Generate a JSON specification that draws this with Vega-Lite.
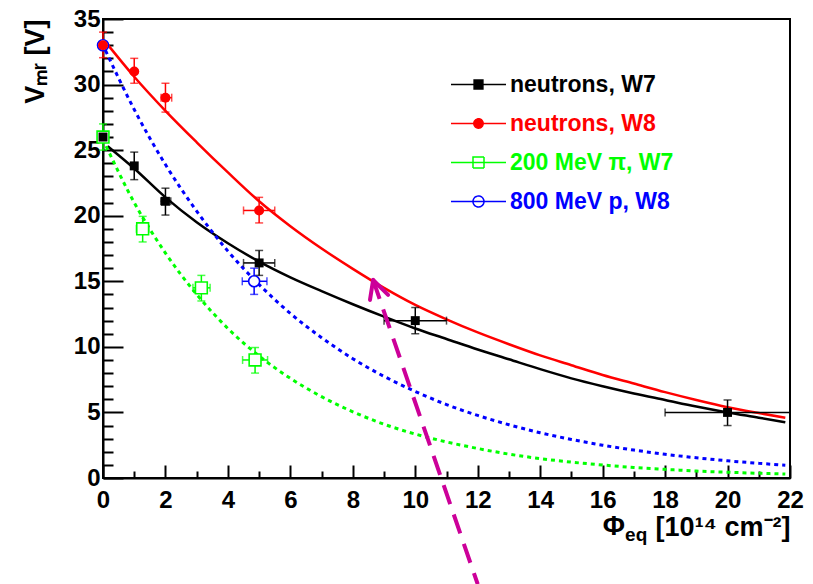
{
  "$schema": "https://vega.github.io/schema/vega-lite/v6.json",
  "width": 687,
  "height": 459,
  "autosize": {"type": "none"},
  "padding": {"left": 103, "top": 19, "right": 23, "bottom": 106},
  "background": "white",
  "config": {"view": {"stroke": "black", "strokeWidth": 2}, "font": "Liberation Sans"},
  "datasets": {
    "curves": [
      {"series": "neutrons, W7", "x": 0.15, "y": 25.3},
      {"series": "neutrons, W7", "x": 1, "y": 23.6},
      {"series": "neutrons, W7", "x": 2, "y": 21.4},
      {"series": "neutrons, W7", "x": 3, "y": 19.5},
      {"series": "neutrons, W7", "x": 4, "y": 17.9},
      {"series": "neutrons, W7", "x": 5, "y": 16.5},
      {"series": "neutrons, W7", "x": 6, "y": 15.3},
      {"series": "neutrons, W7", "x": 7, "y": 14.25},
      {"series": "neutrons, W7", "x": 8, "y": 13.25},
      {"series": "neutrons, W7", "x": 9, "y": 12.3},
      {"series": "neutrons, W7", "x": 10, "y": 11.4},
      {"series": "neutrons, W7", "x": 11, "y": 10.6},
      {"series": "neutrons, W7", "x": 12, "y": 9.8},
      {"series": "neutrons, W7", "x": 13, "y": 9.05},
      {"series": "neutrons, W7", "x": 14, "y": 8.3},
      {"series": "neutrons, W7", "x": 15, "y": 7.6},
      {"series": "neutrons, W7", "x": 16, "y": 7.0},
      {"series": "neutrons, W7", "x": 17, "y": 6.45},
      {"series": "neutrons, W7", "x": 18, "y": 5.95},
      {"series": "neutrons, W7", "x": 19, "y": 5.45},
      {"series": "neutrons, W7", "x": 20, "y": 5.0},
      {"series": "neutrons, W7", "x": 21, "y": 4.6},
      {"series": "neutrons, W7", "x": 21.85, "y": 4.25},
      {"series": "neutrons, W8", "x": 0.1, "y": 33.2},
      {"series": "neutrons, W8", "x": 1, "y": 30.6},
      {"series": "neutrons, W8", "x": 2, "y": 28.0},
      {"series": "neutrons, W8", "x": 3, "y": 25.6},
      {"series": "neutrons, W8", "x": 4, "y": 23.3},
      {"series": "neutrons, W8", "x": 5, "y": 21.1},
      {"series": "neutrons, W8", "x": 6, "y": 19.2},
      {"series": "neutrons, W8", "x": 7, "y": 17.5},
      {"series": "neutrons, W8", "x": 8, "y": 15.95},
      {"series": "neutrons, W8", "x": 9, "y": 14.5},
      {"series": "neutrons, W8", "x": 10, "y": 13.2},
      {"series": "neutrons, W8", "x": 11, "y": 12.1},
      {"series": "neutrons, W8", "x": 12, "y": 11.1},
      {"series": "neutrons, W8", "x": 13, "y": 10.2},
      {"series": "neutrons, W8", "x": 14, "y": 9.35},
      {"series": "neutrons, W8", "x": 15, "y": 8.6},
      {"series": "neutrons, W8", "x": 16, "y": 7.85},
      {"series": "neutrons, W8", "x": 17, "y": 7.2},
      {"series": "neutrons, W8", "x": 18, "y": 6.55},
      {"series": "neutrons, W8", "x": 19, "y": 5.95},
      {"series": "neutrons, W8", "x": 20, "y": 5.4},
      {"series": "neutrons, W8", "x": 21, "y": 4.95},
      {"series": "neutrons, W8", "x": 21.85, "y": 4.6},
      {"series": "200 MeV π, W7", "x": 0.1, "y": 25.3},
      {"series": "200 MeV π, W7", "x": 1, "y": 21.0},
      {"series": "200 MeV π, W7", "x": 2, "y": 17.15},
      {"series": "200 MeV π, W7", "x": 3, "y": 14.0},
      {"series": "200 MeV π, W7", "x": 4, "y": 11.4},
      {"series": "200 MeV π, W7", "x": 5, "y": 9.3},
      {"series": "200 MeV π, W7", "x": 6, "y": 7.6},
      {"series": "200 MeV π, W7", "x": 7, "y": 6.2},
      {"series": "200 MeV π, W7", "x": 8, "y": 5.05},
      {"series": "200 MeV π, W7", "x": 9, "y": 4.1},
      {"series": "200 MeV π, W7", "x": 10, "y": 3.35},
      {"series": "200 MeV π, W7", "x": 11, "y": 2.75},
      {"series": "200 MeV π, W7", "x": 12, "y": 2.25},
      {"series": "200 MeV π, W7", "x": 13, "y": 1.82},
      {"series": "200 MeV π, W7", "x": 14, "y": 1.48},
      {"series": "200 MeV π, W7", "x": 15, "y": 1.21},
      {"series": "200 MeV π, W7", "x": 16, "y": 0.99},
      {"series": "200 MeV π, W7", "x": 17, "y": 0.8},
      {"series": "200 MeV π, W7", "x": 18, "y": 0.66},
      {"series": "200 MeV π, W7", "x": 19, "y": 0.53},
      {"series": "200 MeV π, W7", "x": 20, "y": 0.44},
      {"series": "200 MeV π, W7", "x": 21, "y": 0.36},
      {"series": "200 MeV π, W7", "x": 21.85, "y": 0.3},
      {"series": "800 MeV p, W8", "x": 0.08, "y": 32.6},
      {"series": "800 MeV p, W8", "x": 1, "y": 28.1},
      {"series": "800 MeV p, W8", "x": 2, "y": 23.9},
      {"series": "800 MeV p, W8", "x": 3, "y": 20.35},
      {"series": "800 MeV p, W8", "x": 4, "y": 17.3},
      {"series": "800 MeV p, W8", "x": 5, "y": 14.75},
      {"series": "800 MeV p, W8", "x": 6, "y": 12.55},
      {"series": "800 MeV p, W8", "x": 7, "y": 10.7},
      {"series": "800 MeV p, W8", "x": 8, "y": 9.1},
      {"series": "800 MeV p, W8", "x": 9, "y": 7.75},
      {"series": "800 MeV p, W8", "x": 10, "y": 6.6},
      {"series": "800 MeV p, W8", "x": 11, "y": 5.6},
      {"series": "800 MeV p, W8", "x": 12, "y": 4.77},
      {"series": "800 MeV p, W8", "x": 13, "y": 4.06},
      {"series": "800 MeV p, W8", "x": 14, "y": 3.45},
      {"series": "800 MeV p, W8", "x": 15, "y": 2.94},
      {"series": "800 MeV p, W8", "x": 16, "y": 2.5},
      {"series": "800 MeV p, W8", "x": 17, "y": 2.13},
      {"series": "800 MeV p, W8", "x": 18, "y": 1.81},
      {"series": "800 MeV p, W8", "x": 19, "y": 1.54},
      {"series": "800 MeV p, W8", "x": 20, "y": 1.31},
      {"series": "800 MeV p, W8", "x": 21, "y": 1.12},
      {"series": "800 MeV p, W8", "x": 21.85, "y": 0.98}
    ],
    "points": [
      {"series": "neutrons, W7", "x": 0, "y": 26, "ylo": 26, "yhi": 26, "xlo": 0, "xhi": 0},
      {"series": "neutrons, W7", "x": 1, "y": 23.8, "ylo": 22.75, "yhi": 24.85, "xlo": 1, "xhi": 1},
      {"series": "neutrons, W7", "x": 2, "y": 21.1, "ylo": 20.05, "yhi": 22.1, "xlo": 1.85, "xhi": 2.17},
      {"series": "neutrons, W7", "x": 5, "y": 16.4, "ylo": 15.45, "yhi": 17.35, "xlo": 4.5, "xhi": 5.5},
      {"series": "neutrons, W7", "x": 10, "y": 12.0, "ylo": 11.0, "yhi": 13.0, "xlo": 9.0, "xhi": 11.0},
      {"series": "neutrons, W7", "x": 20, "y": 5.0, "ylo": 4.0, "yhi": 5.95, "xlo": 18.0, "xhi": 22.0},
      {"series": "neutrons, W8", "x": 0, "y": 33.0, "ylo": 32.05, "yhi": 34.0, "xlo": 0, "xhi": 0},
      {"series": "neutrons, W8", "x": 1, "y": 31.0, "ylo": 30.1, "yhi": 32.0, "xlo": 1, "xhi": 1},
      {"series": "neutrons, W8", "x": 2, "y": 29.0, "ylo": 27.9, "yhi": 30.1, "xlo": 1.86, "xhi": 2.2},
      {"series": "neutrons, W8", "x": 5, "y": 20.4, "ylo": 19.45, "yhi": 21.4, "xlo": 4.5, "xhi": 5.5},
      {"series": "200 MeV π, W7", "x": 0, "y": 26, "ylo": 25.0, "yhi": 27.0, "xlo": 0, "xhi": 0},
      {"series": "200 MeV π, W7", "x": 1.27, "y": 19.0, "ylo": 18.0, "yhi": 19.95, "xlo": 1.07, "xhi": 1.47},
      {"series": "200 MeV π, W7", "x": 3.15, "y": 14.5, "ylo": 13.5, "yhi": 15.45, "xlo": 2.88, "xhi": 3.43},
      {"series": "200 MeV π, W7", "x": 4.87, "y": 9.0, "ylo": 8.0, "yhi": 9.95, "xlo": 4.47, "xhi": 5.27},
      {"series": "800 MeV p, W8", "x": 0, "y": 33.0, "ylo": 33.0, "yhi": 33.0, "xlo": 0, "xhi": 0},
      {"series": "800 MeV p, W8", "x": 4.84, "y": 15.0, "ylo": 14.0, "yhi": 16.0, "xlo": 4.46, "xhi": 5.25}
    ],
    "arrowShaft": [{"x": 8.65, "y": 15.1, "x2": 12.0, "y2": -8.1}],
    "arrowHead": [
      {"x": 8.65, "y": 15.1, "x2": 8.55, "y2": 13.58},
      {"x": 8.65, "y": 15.1, "x2": 9.13, "y2": 13.96}
    ],
    "titlePhi": [{"label": "Φ"}],
    "titleEq": [{"label": "eq"}]
  },
  "layer": [
    {
      "data": {"name": "curves"},
      "transform": [{"filter": "datum.series === 'neutrons, W7' || datum.series === 'neutrons, W8'"}],
      "mark": {"type": "line", "strokeWidth": 2.5, "interpolate": "monotone"},
      "encoding": {
        "x": {
          "field": "x", "type": "quantitative", "title": "[10¹⁴ cm⁻²]",
          "scale": {"domain": [0, 22], "nice": false, "zero": false},
          "axis": {
            "title": "[10¹⁴ cm⁻²]",
            "values": [0,0.5,1,1.5,2,2.5,3,3.5,4,4.5,5,5.5,6,6.5,7,7.5,8,8.5,9,9.5,10,10.5,11,11.5,12,12.5,13,13.5,14,14.5,15,15.5,16,16.5,17,17.5,18,18.5,19,19.5,20,20.5,21,21.5,22],
            "tickCount": 200,
            "format": "d",
            "labelExpr": "datum.value % 2 === 0 ? datum.label : ''",
            "tickSize": {"condition": {"test": "datum.value % 2 === 0", "value": -13}, "value": -7},
            "tickColor": "black", "tickWidth": 2, "domainColor": "black", "domainWidth": 2,
            "labelFont": "Liberation Sans", "labelFontWeight": "bold", "labelFontSize": 24, "labelColor": "black",
            "labelPadding": 23, "labelFlush": false, "labelOverlap": false, "labelBaseline": "top", "grid": false,
            "titleFont": "Liberation Sans", "titleFontWeight": "bold", "titleFontSize": 27, "titleColor": "black",
            "titleX": 687, "titleY": 57, "titleAlign": "right", "titleBaseline": "alphabetic"
          }
        },
        "y": {
          "field": "y", "type": "quantitative", "title": "Vₘᵣ [V]",
          "scale": {"domain": [0, 35], "nice": false, "zero": false},
          "axis": {
            "title": "Vₘᵣ [V]",
            "values": [0,1,2,3,4,5,6,7,8,9,10,11,12,13,14,15,16,17,18,19,20,21,22,23,24,25,26,27,28,29,30,31,32,33,34,35],
            "tickCount": 200,
            "format": "d",
            "labelExpr": "datum.value % 5 === 0 ? datum.label : ''",
            "tickSize": {"condition": {"test": "datum.value % 5 === 0", "value": -20}, "value": -10},
            "tickColor": "black", "tickWidth": 2, "domainColor": "black", "domainWidth": 2,
            "labelFont": "Liberation Sans", "labelFontWeight": "bold", "labelFontSize": 24, "labelColor": "black",
            "labelPadding": 23, "labelFlush": false, "labelOverlap": false, "grid": false,
            "titleFont": "Liberation Sans", "titleFontWeight": "bold", "titleFontSize": 27, "titleColor": "black",
            "titleX": -60, "titleY": 0, "titleAlign": "right", "titleAngle": 270, "titleBaseline": "alphabetic"
          }
        },
        "color": {
          "field": "series", "type": "nominal",
          "scale": {"domain": ["neutrons, W7", "neutrons, W8", "200 MeV π, W7", "800 MeV p, W8"], "range": ["#000000", "#ff0000", "#00ff00", "#0000ff"]},
          "legend": {
            "title": null, "orient": "none", "legendX": 347, "legendY": 46, "padding": 0, "offset": 0,
            "symbolSize": 3025, "clipHeight": 39, "rowPadding": 0,
            "labelOffset": 3, "labelFont": "Liberation Sans", "labelFontSize": 23, "labelFontWeight": "bold", "labelLimit": 400,
            "symbolStrokeWidth": 1.5,
            "encode": {
              "symbols": {"update": {
                "shape": {"signal": "['M-1,0H1M-0.16,-0.16H0.16V0.16H-0.16Z','M-1,0H1M-0.17,0A0.17,0.17,0,1,0,0.17,0A0.17,0.17,0,1,0,-0.17,0Z','M-1,0H1M-0.2,-0.2H0.2V0.2H-0.2Z','M-1,0H1M-0.2,0A0.2,0.2,0,1,0,0.2,0A0.2,0.2,0,1,0,-0.2,0Z'][datum.index]"},
                "fillOpacity": {"signal": "datum.index < 2 ? 1 : 0"},
                "stroke": {"scale": "color", "field": "value"},
                "strokeDash": {"value": [1, 0]},
                "strokeWidth": {"value": 1.5},
                "size": {"value": 3025},
                "opacity": {"value": 1}
              }},
              "labels": {"update": {"fill": {"scale": "color", "field": "value"}}}
            }
          }
        }
      }
    },
    {
      "data": {"name": "curves"},
      "transform": [{"filter": "datum.series === '200 MeV π, W7' || datum.series === '800 MeV p, W8'"}],
      "mark": {"type": "line", "strokeWidth": 3, "strokeDash": [4, 4], "interpolate": "monotone"},
      "encoding": {
        "x": {"field": "x", "type": "quantitative", "title": "[10¹⁴ cm⁻²]"},
        "y": {"field": "y", "type": "quantitative", "title": "Vₘᵣ [V]"},
        "color": {"field": "series", "type": "nominal", "legend": null}
      }
    },
    {
      "data": {"name": "points"},
      "transform": [{"filter": "datum.ylo < datum.yhi"}],
      "mark": {"type": "errorbar", "ticks": {"size": 8}, "thickness": 1.5},
      "encoding": {
        "x": {"field": "x", "type": "quantitative", "title": "[10¹⁴ cm⁻²]"},
        "y": {"field": "ylo", "type": "quantitative", "title": "Vₘᵣ [V]"},
        "y2": {"field": "yhi"},
        "color": {"field": "series", "type": "nominal", "legend": null}
      }
    },
    {
      "data": {"name": "points"},
      "transform": [{"filter": "datum.xlo < datum.xhi"}],
      "mark": {"type": "errorbar", "ticks": {"size": 8}, "thickness": 1.5},
      "encoding": {
        "y": {"field": "y", "type": "quantitative", "title": "Vₘᵣ [V]"},
        "x": {"field": "xlo", "type": "quantitative", "title": "[10¹⁴ cm⁻²]"},
        "x2": {"field": "xhi"},
        "color": {"field": "series", "type": "nominal", "legend": null}
      }
    },
    {
      "data": {"name": "points"},
      "transform": [{"filter": "datum.series === '200 MeV π, W7'"}],
      "mark": {"type": "point", "shape": "square", "filled": false, "fill": "white", "strokeWidth": 1.6, "size": 140, "opacity": 1},
      "encoding": {
        "x": {"field": "x", "type": "quantitative", "title": "[10¹⁴ cm⁻²]"},
        "y": {"field": "y", "type": "quantitative", "title": "Vₘᵣ [V]"},
        "color": {"field": "series", "type": "nominal", "legend": null}
      }
    },
    {
      "data": {"name": "points"},
      "transform": [{"filter": "datum.series === '800 MeV p, W8'"}],
      "mark": {"type": "point", "shape": "circle", "filled": false, "fill": "white", "strokeWidth": 1.6, "size": 120, "opacity": 1},
      "encoding": {
        "x": {"field": "x", "type": "quantitative", "title": "[10¹⁴ cm⁻²]"},
        "y": {"field": "y", "type": "quantitative", "title": "Vₘᵣ [V]"},
        "color": {"field": "series", "type": "nominal", "legend": null}
      }
    },
    {
      "data": {"name": "points"},
      "transform": [{"filter": "datum.series === 'neutrons, W7'"}],
      "mark": {"type": "point", "shape": "square", "filled": true, "size": 80, "opacity": 1},
      "encoding": {
        "x": {"field": "x", "type": "quantitative", "title": "[10¹⁴ cm⁻²]"},
        "y": {"field": "y", "type": "quantitative", "title": "Vₘᵣ [V]"},
        "color": {"field": "series", "type": "nominal", "legend": null}
      }
    },
    {
      "data": {"name": "points"},
      "transform": [{"filter": "datum.series === 'neutrons, W8'"}],
      "mark": {"type": "point", "shape": "circle", "filled": true, "size": 100, "opacity": 1},
      "encoding": {
        "x": {"field": "x", "type": "quantitative", "title": "[10¹⁴ cm⁻²]"},
        "y": {"field": "y", "type": "quantitative", "title": "Vₘᵣ [V]"},
        "color": {"field": "series", "type": "nominal", "legend": null}
      }
    },
    {
      "data": {"name": "arrowShaft"},
      "mark": {"type": "rule", "color": "#cc0099", "strokeWidth": 4, "strokeDash": [20, 11]},
      "encoding": {
        "x": {"field": "x", "type": "quantitative", "title": "[10¹⁴ cm⁻²]"},
        "y": {"field": "y", "type": "quantitative", "title": "Vₘᵣ [V]"},
        "x2": {"field": "x2"},
        "y2": {"field": "y2"}
      }
    },
    {
      "data": {"name": "arrowHead"},
      "mark": {"type": "rule", "color": "#cc0099", "strokeWidth": 4, "strokeCap": "round"},
      "encoding": {
        "x": {"field": "x", "type": "quantitative", "title": "[10¹⁴ cm⁻²]"},
        "y": {"field": "y", "type": "quantitative", "title": "Vₘᵣ [V]"},
        "x2": {"field": "x2"},
        "y2": {"field": "y2"}
      }
    },
    {
      "data": {"name": "titlePhi"},
      "mark": {"type": "text", "align": "left", "baseline": "alphabetic", "font": "Liberation Sans", "fontWeight": "bold", "fontSize": 27, "color": "black"},
      "encoding": {
        "x": {"datum": 16.0, "type": "quantitative", "title": "[10¹⁴ cm⁻²]"},
        "y": {"datum": -4.35, "type": "quantitative", "title": "Vₘᵣ [V]"},
        "text": {"field": "label"}
      }
    },
    {
      "data": {"name": "titleEq"},
      "mark": {"type": "text", "align": "left", "baseline": "alphabetic", "font": "Liberation Sans", "fontWeight": "bold", "fontSize": 19, "color": "black"},
      "encoding": {
        "x": {"datum": 16.72, "type": "quantitative", "title": "[10¹⁴ cm⁻²]"},
        "y": {"datum": -4.8, "type": "quantitative", "title": "Vₘᵣ [V]"},
        "text": {"field": "label"}
      }
    }
  ]
}
